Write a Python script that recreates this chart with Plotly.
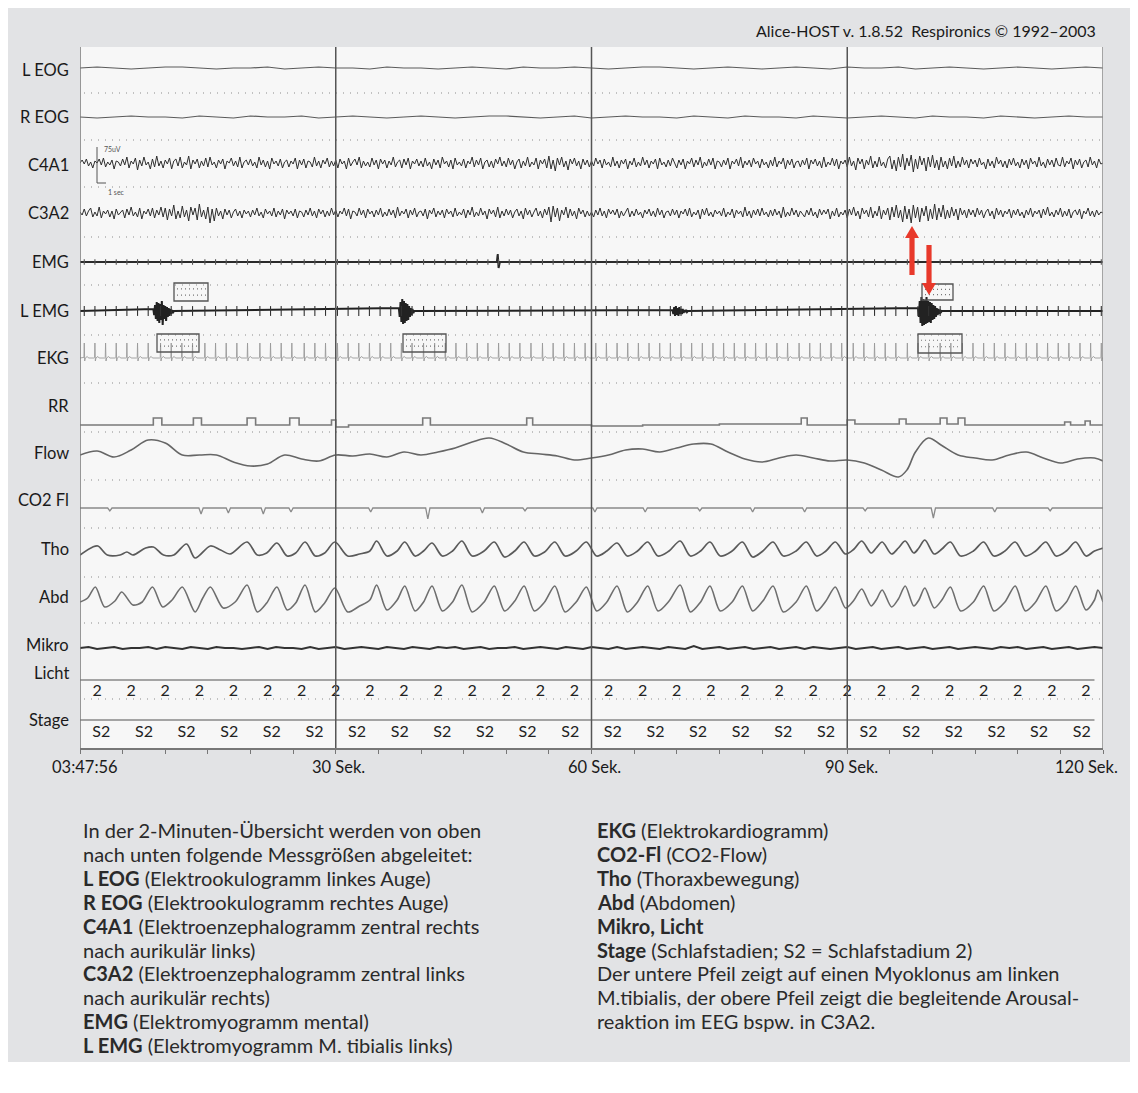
import numpy as np
import plotly.graph_objects as go

# ---------------------------------------------------------------- data
channel_names = ["L EOG", "R EOG", "C4A1", "C3A2", "EMG", "L EMG", "EKG", "RR",
                 "Flow", "CO2 Fl", "Tho", "Abd", "Mikro", "Licht", "Stage"]
time_tick_values = [0, 30, 60, 90, 120]
time_tick_labels = ["03:47:56", "30 Sek.", "60 Sek.", "90 Sek.", "120 Sek."]

# EOG (every 2 s)
l_eog = [0, 1, 0, -1, 0, 1, 1, 0, -1, 0, 0, 1, -1, 0, 1, 0, 0, -1, 1, 0,
         0, -1, 0, 1, 0, -1, 1, 0, 0, 1, 0, -1, 0, 1, 1, 0, -1, 0, 1, 0,
         -1, 0, 1, 0, -1, 1, 0, 0, 1, -1, 0, 1, 0, -1, 0, 1, 0, -1, 0, 1, 0]
r_eog = [0, -1, 0, 1, 0, 0, -1, 1, 0, -1, 1, 0, 0, 1, -1, 0, 1, 0, -1, 0,
         1, 0, -1, 0, 1, 1, 0, -1, 0, 1, -1, 0, 1, 0, 0, -1, 1, 0, -1, 1,
         0, 0, -1, 1, 0, -1, 0, 1, 0, -1, 1, 0, 0, -1, 1, 0, -1, 0, 1, 0, 0]

# EEG (every 0.25 s)
c4a1 = [
    0, 3, -1, 4, -3, 1, -5, 2, 0, 4, -2, 5, -4, 1, -2, 3, -6, 2, 1, -3,
    4, -2, 6, -5, 2, -1, 5, -7, 3, -3, 6, -2, 1, -6, 4, -4, 7, -3, 2, -5,
    3, -1, 5, -6, 2, 4, -3, 6, -5, 1, -2, 7, -6, 3, -1, 4, -5, 2, -3, 5,
    -4, 6, -2, 1, -5, 3, -1, 4, -6, 2, 0, 5, -3, 2, -4, 6, -5, 1, 3, -2,
    4, -3, 1, -5, 6, -2, 3, -4, 2, -6, 5, -1, 2, -3, 4, -5, 1, 3, -4, 2,
    -1, 5, -6, 3, -2, 4, -5, 2, 1, -4, 6, -3, 2, -5, 3, -1, 5, -4, 2, -3,
    3, -5, 4, -1, 2, -6, 5, -3, 1, 4, -2, 6, -5, 2, -3, 1, -4, 5, -2, 3,
    -6, 4, -1, 3, -5, 2, -2, 6, -4, 1, 3, -5, 4, -2, 5, -6, 2, -1, 4, -3,
    2, -4, 5, -3, 1, -6, 4, -2, 3, -5, 6, -1, 2, -4, 3, -6, 5, -2, 1, -3,
    4, -5, 2, -1, 6, -4, 3, -2, 5, -6, 1, 3, -4, 2, -5, 4, -1, 6, -3, 2,
    -4, 5, -2, 3, -6, 1, 4, -5, 2, -3, 6, -4, 1, -2, 5, -6, 3, -1, 4, -5,
    7, -6, 3, -8, 5, -2, 6, -4, 2, -7, 4, -1, 5, -3, 2, -6, 4, -2, 3, -4,
    2, -3, 5, -1, 3, -5, 4, -2, 1, -4, 6, -3, 2, -5, 3, -1, 4, -6, 2, -2,
    5, -4, 1, -3, 6, -2, 3, -5, 2, -1, 4, -6, 5, -2, 1, -4, 3, -3, 5, -1,
    -5, 3, -2, 4, -6, 2, -1, 5, -4, 3, -2, 6, -5, 1, -3, 4, -2, 5, -6, 2,
    1, -4, 3, -2, 5, -6, 2, -1, 4, -3, 6, -5, 2, -2, 3, -4, 5, -1, 2, -5,
    4, -2, 1, -5, 3, -3, 6, -4, 2, -1, 5, -6, 3, -2, 4, -5, 1, 2, -4, 3,
    -2, 5, -6, 3, -1, 4, -3, 2, -5, 6, -4, 1, -2, 5, -3, 4, -6, 2, -1, 3,
    -4, 6, -3, 2, -7, 5, -1, 4, -6, 3, -2, 7, -5, 2, -4, 6, -3, 1, -5, 4,
    7, -6, 3, -8, 6, -4, 9, -7, 5, -3, 8, -9, 4, -6, 7, -2, 5, -8, 6, -4,
    8, -5, 3, -7, 6, -4, 2, -6, 5, -3, 7, -5, 2, -4, 6, -2, 3, -5, 4, -1,
    3, -4, 5, -2, 1, -6, 4, -3, 2, -5, 6, -1, 3, -4, 2, -5, 4, -2, 5, -3,
    1, -5, 4, -2, 3, -6, 5, -1, 2, -4, 6, -3, 1, -5, 4, -2, 3, -4, 5, -2,
    -3, 6, -4, 2, -1, 5, -6, 3, -2, 4, -5, 1, 3, -4, 6, -2, 2, -5, 4, -1,
    0]
c3a2 = [
    1, -2, 4, -3, 2, 5, -4, 1, -3, 6, -5, 2, -1, 3, -4, 2, -6, 4, -2, 1,
    3, -5, 4, -2, 6, -3, 1, -4, 5, -6, 2, -1, 4, -3, 5, -5, 3, -2, 6, -4,
    5, -7, 4, -3, 8, -6, 2, -5, 7, -4, 3, -8, 6, -2, 5, -7, 9, -4, 3, -6,
    6, -10, 4, -8, 5, -3, 2, -6, 4, -2, 3, -5, 1, 4, -3, 2, -5, 3, -1, 2,
    -4, 3, -2, 5, -3, 1, -5, 4, -1, 2, -3, 5, -4, 2, -2, 4, -6, 3, -1, 2,
    -3, 4, -5, 2, 1, -4, 3, -2, 5, -3, 2, -5, 4, -1, 3, -4, 2, -3, 5, -2,
    3, -4, 2, -1, 5, -3, 4, -6, 2, 1, -3, 5, -2, 3, -5, 4, -1, 2, -4, 3,
    -2, 5, -4, 1, -3, 4, -2, 3, -5, 6, -3, 2, -1, 4, -5, 3, -2, 5, -4, 1,
    2, -3, 4, -6, 3, -1, 5, -4, 2, -2, 3, -5, 4, -1, 2, -4, 5, -3, 1, -2,
    4, -5, 3, -2, 6, -4, 1, -3, 5, -2, 2, -6, 4, -1, 3, -4, 6, -5, 2, -3,
    4, -2, 3, -5, 1, 4, -3, 2, -6, 5, -2, 3, -4, 1, 5, -3, 2, -5, 4, -2,
    6, -9, 7, -4, 5, -8, 3, -2, 6, -5, 4, -3, 2, -6, 5, -1, 3, -4, 2, -3,
    1, -4, 3, -2, 5, -3, 2, -5, 4, -1, 3, -2, 4, -5, 2, -3, 1, 5, -4, 2,
    -3, 4, -2, 1, -5, 3, -1, 4, -3, 2, -4, 5, -2, 3, -5, 1, 2, -3, 4, -2,
    3, -5, 2, -1, 4, -3, 5, -4, 1, -2, 3, -6, 4, -2, 5, -3, 1, -4, 3, -1,
    2, -3, 5, -4, 1, -2, 4, -5, 3, -1, 2, -4, 6, -3, 2, -5, 3, -2, 4, -3,
    5, -2, 1, -4, 3, -3, 4, -2, 2, -5, 6, -4, 1, -3, 5, -2, 3, -4, 2, -1,
    -4, 3, -2, 5, -3, 1, -5, 4, -2, 3, -1, 4, -6, 2, -3, 5, -4, 1, -2, 3,
    -5, 4, -2, 6, -3, 2, -6, 5, -1, 3, -4, 6, -5, 2, -3, 7, -6, 3, -2, 5,
    -7, 6, -4, 8, -5, 3, -9, 7, -6, 4, -10, 8, -5, 6, -9, 5, -3, 7, -8, 4,
    -6, 9, -7, 5, -4, 8, -6, 3, -5, 6, -3, 4, -7, 5, -2, 3, -5, 4, -2, 3,
    -4, 5, -2, 3, -5, 1, 4, -3, 2, -6, 5, -2, 3, -4, 2, -1, 4, -5, 3, -2,
    4, -3, 1, -5, 3, -2, 5, -4, 2, -1, 3, -5, 4, -2, 6, -3, 1, -4, 3, -2,
    5, -4, 2, -3, 4, -5, 1, 3, -2, 4, -6, 2, -1, 5, -3, 2, -4, 3, -2, 1,
    0]

# EMG (mental): one artefact spike
emg_t = [0, 48.9, 49.0, 49.1, 49.25, 120]
emg_v = [0, 0, 8, -6, 0, 0]

# Heart beats (s) – shared by EKG and the ECG artefacts in EMG channels
beat_times = [0.5, 1.75, 3.0, 4.25, 5.5, 6.75, 8.0, 9.45, 10.7, 11.95, 13.2, 14.65,
              15.9, 17.15, 18.4, 19.65, 21.1, 22.35, 23.6, 24.85, 26.3, 27.55, 28.8,
              30.2, 31.45, 32.7, 33.95, 35.2, 36.45, 37.7, 38.95, 40.3, 41.6, 42.85,
              44.1, 45.35, 46.6, 47.85, 49.1, 50.35, 51.6, 52.9, 54.25, 55.5, 56.75,
              58.0, 59.25, 60.5, 61.75, 63.0, 64.25, 65.5, 66.75, 68.0, 69.25, 70.5,
              71.75, 73.0, 74.25, 75.5, 76.75, 78.0, 79.25, 80.5, 81.75, 83.0, 84.35,
              85.6, 86.85, 88.1, 89.35, 90.7, 91.95, 93.2, 94.45, 95.7, 97.05, 98.3,
              99.55, 100.9, 102.15, 103.5, 104.75, 106.0, 107.25, 108.5, 109.75,
              111.0, 112.25, 113.5, 114.75, 116.0, 117.3, 118.55, 119.8]

# L EMG bursts (start s, samples every 0.1 s)
lemg_burst_starts = [8.6, 37.4, 69.5, 98.3]
lemg_bursts = [
    [2, -4, 6, -8, 9, -10, 8, -12, 7, -9, 10, -14, 6, -8, 5, -10, 4, -6, 3, -5, 2, -3, 1, -2, 0],
    [3, -6, 9, -11, 12, -13, 10, -12, 8, -10, 7, -9, 5, -6, 3, -4, 2, -2, 0],
    [1, -3, 4, -5, 5, -4, 3, -5, 4, -3, 2, -3, 2, -2, 1, -1, 1, -1, 0],
    [3, -6, 10, -12, 14, -15, 12, -14, 11, -13, 14, -12, 10, -11, 9, -12, 8, -9,
     6, -8, 5, -6, 3, -4, 2, -3, 1, -1, 0],
]

# RR tachogram (step line)
rr_t = [0, 8.6, 9.6, 13.3, 14.25, 19.6, 20.6, 24.6, 25.7, 29.5, 30.0, 31.5, 40.2,
        41.1, 52.4, 53.1, 60.0, 66.0, 75.0, 84.6, 85.3, 90.0, 90.9, 96.1, 96.9,
        100.9, 101.7, 103.0, 103.8, 108.0, 115.5, 116.2, 117.9, 118.5, 120]
rr_v = [0, 7, 0, 7, 0, 7, 0, 7, 0, 5, -2, 0, 7, 0, 7, 0, -1, 0, 1, 7, 0, 5, 1,
        6, 1, 7, 1, 7, 0, 0, 3, 0, 4, 0, 0]

# Flow
flow_t = [0, 2, 4, 6, 8, 10, 12, 14, 16, 18, 20, 22, 24, 26, 28, 30, 32, 34, 36, 38,
          40, 42, 44, 46, 48, 50, 52, 54, 56, 58, 60, 62, 64, 66, 68, 70, 72, 74, 76,
          78, 80, 82, 84, 86, 88, 90, 92, 94, 96, 97, 98, 99.5, 101, 103, 105, 107,
          109, 111, 113, 115, 117, 119, 120]
flow_v = [0, 4, -2, 5, 15, 12, 0, 0, 0, -7, -11, -9, 0, -4, -6, 0, -1, 1, -2, 3,
          0, 3, 7, 13, 17, 11, 3, 1, -1, -5, -3, 0, 5, 6, 3, 7, 11, 11, 3,
          -4, -7, -3, 0, -3, -6, -5, -8, -15, -22, -15, 3, 17, 10, 0, -3, -5,
          0, 3, -3, -8, -4, -3, -6]

# CO2 flow dips
co2_dip_t = [3.5, 14.2, 17.4, 21.5, 24.75, 34.1, 40.8, 47.2, 52.2, 60.4, 66.3,
             72.7, 78.9, 85.0, 92.1, 100.1, 107.3, 113.8]
co2_dip_v = [3, 6, 5, 6, 4, 4, 11, 5, 3, 4, 4, 3, 4, 4, 3, 10, 4, 3]

# Thorax
tho_t = [0, 1.5, 2.1, 3.2, 4.7, 5.5, 6.2, 7.7, 8.6, 9.8, 11.0, 12.5, 13.5, 15.3,
         16.5, 17.6, 19.6, 20.8, 21.9, 23.1, 24.3, 25.3, 26.4, 27.6, 28.7, 29.9,
         31.4, 32.8, 34.0, 34.8, 36.0, 37.2, 38.1, 39.3, 40.3, 41.3, 42.5, 43.7,
         44.8, 46.0, 47.4, 48.6, 49.8, 51.0, 52.1, 53.3, 54.5, 55.7, 56.9, 58.2,
         59.4, 60.6, 61.8, 63.0, 64.2, 65.4, 66.6, 67.8, 69.1, 70.4, 71.6, 72.8,
         73.9, 75.1, 76.5, 77.7, 78.9, 80.1, 81.3, 82.5, 84.0, 85.2, 86.4, 87.5,
         88.6, 89.8, 90.8, 91.7, 92.8, 93.4, 94.1, 95.2, 96.0, 96.8, 97.8, 98.4,
         99.1, 100.2, 101.1, 102.1, 103.3, 104.8, 106.0, 107.2, 108.5, 109.7,
         110.9, 112.1, 113.3, 114.5, 115.7, 116.8, 118.0, 119.0, 120]
tho_v = [-7, 1, 2, -7, -7, -4, -7, 0, 1, -7, -7, 4, -10, 2, -2, -6, 6, -7, -5, 5,
         -8, -5, 6, -8, -5, 6, -8, -6, -3, 7, -8, -3, 6, -8, -3, 5, -8, -3, 7,
         -8, -3, 6, -9, -3, 6, -8, -4, 6, -8, -3, 6, -8, -3, 5, -8, -3, 6, -8,
         -3, 7, -8, -3, 6, -8, -3, 6, -9, -3, 6, -8, -3, 6, -8, -3, 6, -6, -1,
         7, -5, 0, 6, -6, 0, 7, -5, 0, 8, -6, -1, 6, -8, -3, 6, -8, -3, 6, -8,
         -3, 6, -8, -3, 6, -8, -3, 0]

# Abdomen
abd_t = [0, 0.9, 1.8, 2.9, 4.1, 4.9, 6.2, 7.3, 8.5, 9.7, 10.8, 12.0, 13.5, 14.4,
         15.3, 16.8, 18.2, 19.6, 20.8, 21.9, 23.1, 24.3, 25.3, 26.4, 27.6, 28.7,
         29.9, 31.4, 32.8, 34.0, 34.8, 36.0, 37.2, 38.1, 39.3, 40.3, 41.3, 42.5,
         43.7, 44.8, 46.0, 47.4, 48.6, 49.8, 51.0, 52.1, 53.3, 54.5, 55.7, 56.9,
         58.2, 59.4, 60.6, 61.8, 63.0, 64.2, 65.4, 66.6, 67.8, 69.1, 70.4, 71.6,
         72.8, 73.9, 75.1, 76.5, 77.7, 78.9, 80.1, 81.3, 82.5, 84.0, 85.2, 86.4,
         87.5, 88.6, 89.8, 90.8, 91.7, 92.8, 93.4, 94.1, 95.2, 96.0, 96.8, 97.8,
         98.4, 99.1, 100.2, 101.1, 102.1, 103.3, 104.8, 106.0, 107.2, 108.5,
         109.7, 110.9, 112.1, 113.3, 114.5, 115.7, 116.8, 118.0, 119.0, 119.4, 120]
abd_v = [-4, 0, 11, -9, -3, 6, -7, -4, 11, -9, -2, 11, -14, 0, 11, -10, -4, 13,
         -14, -5, 11, -12, -5, 13, -14, -5, 10, -14, -8, -2, 13, -12, -2, 12, -13,
         -4, 12, -13, -4, 13, -14, -4, 12, -13, -3, 12, -13, -4, 12, -14, -4, 11,
         -13, -4, 12, -14, -4, 12, -13, -3, 13, -14, -4, 12, -13, -4, 12, -13, -3,
         12, -14, -4, 12, -13, -3, 11, -10, -2, 9, -8, -2, 8, -9, -1, 12, -8, -2,
         10, -10, -2, 11, -13, -4, 12, -13, -4, 12, -13, -4, 12, -13, -4, 12, -12,
         -2, 8, -4]

# Mikro (every 1 s)
mikro = [0, 1, -1, 0, 1, -1, 0, 0, 1, -1, 1, 0, -1, 1, 0, -1, 1, 0, 0, -1,
         0, 1, -1, 1, 0, 0, -1, 1, -1, 0, 1, -1, 0, 1, 0, -1, 1, 0, -1, 1,
         0, -1, 1, 0, 1, -1, 0, 1, -1, 0, 0, 1, -1, 0, 1, 0, -1, 1, 0, -1,
         1, 0, -1, 1, -1, 0, 1, 0, -1, 1, 0, -1, 2, -1, 0, 1, -1, 0, 1, -1,
         0, 1, -1, 0, 1, -1, 1, 0, -1, 0, 1, -1, 0, 1, -1, 0, 1, -1, 0, 1,
         -1, 0, 1, -1, 0, 1, 0, -1, 1, 0, 1, -1, 0, 1, -1, 0, 1, -1, 0, 1, 0]

licht_t = [0, 119]
licht_v = [0, 0]
stage_line_t = [0, 119]
stage_line_v = [0, 0]

licht_label_t = [2, 6, 10, 14, 18, 22, 26, 30, 34, 38, 42, 46, 50, 54, 58, 62,
                 66, 70, 74, 78, 82, 86, 90, 94, 98, 102, 106, 110, 114, 118]
licht_label = "2"
stage_label_t = [2.5, 7.5, 12.5, 17.5, 22.5, 27.5, 32.5, 37.5, 42.5, 47.5, 52.5, 57.5,
                 62.5, 67.5, 72.5, 77.5, 82.5, 87.5, 92.5, 97.5, 102.5, 107.5, 112.5, 117.5]
stage_label = "S2"

caption_left = [
    "In der 2-Minuten-Übersicht werden von oben",
    "nach unten folgende Messgrößen abgeleitet:",
    "<b>L EOG</b> (Elektrookulogramm linkes Auge)",
    "<b>R EOG</b> (Elektrookulogramm rechtes Auge)",
    "<b>C4A1</b> (Elektroenzephalogramm zentral rechts",
    "nach aurikulär links)",
    "<b>C3A2</b> (Elektroenzephalogramm zentral links",
    "nach aurikulär rechts)",
    "<b>EMG</b> (Elektromyogramm mental)",
    "<b>L EMG</b> (Elektromyogramm M. tibialis links)",
]
caption_right = [
    "<b>EKG</b> (Elektrokardiogramm)",
    "<b>CO2-Fl</b> (CO2-Flow)",
    "<b>Tho</b> (Thoraxbewegung)",
    "<b>Abd</b> (Abdomen)",
    "<b>Mikro, Licht</b>",
    "<b>Stage</b> (Schlafstadien; S2 = Schlafstadium 2)",
    "Der untere Pfeil zeigt auf einen Myoklonus am linken",
    "M.tibialis, der obere Pfeil zeigt die begleitende Arousal-",
    "reaktion im EEG bspw. in C3A2.",
]
title_text = "Alice-HOST v. 1.8.52  Respironics © 1992–2003"

# ---------------------------------------------------------------- layout geometry
# all pixel values below are screen coordinates (page body margin = 8 px)
OFF = 8
W, H = 1122, 1054
L, R, T, B = 80, 1103, 47, 748
PW, PH = R - L, B - T
FONT = "Lato, 'Open Sans', sans-serif"
BG = "#e2e3e5"
PLOT_BG = "#f7f7f7"


def pxx(x):
    return (x - L) / PW


def pxy(y):
    return (B - y) / PH


def sec(x):
    return (x - L) / PW * 120


base_px = {"L EOG": 68, "R EOG": 117, "C4A1": 163, "C3A2": 213, "EMG": 262,
           "L EMG": 311, "EKG": 358, "RR": 425, "Flow": 455, "CO2 Fl": 508,
           "Tho": 548, "Abd": 598, "Mikro": 648, "Licht": 680, "Stage": 720}
label_px = {"L EOG": 70, "R EOG": 117, "C4A1": 165, "C3A2": 213, "EMG": 262,
            "L EMG": 311, "EKG": 358, "RR": 406, "Flow": 453, "CO2 Fl": 500,
            "Tho": 549, "Abd": 597, "Mikro": 645, "Licht": 673, "Stage": 720}
HALF = 26

fig = go.Figure()
axes = {}
yname = {}
for i, name in enumerate(channel_names):
    n = i + 2
    c = base_px[name]
    top = max(T, c - HALF)
    bot = min(B, c + HALF)
    axes[f"yaxis{n}"] = dict(domain=[pxy(bot), pxy(top)], range=[c - bot, c - top],
                             anchor="x", visible=False, fixedrange=True)
    yname[name] = f"y{n}"


def line(name, x, y, color, width, shape="linear", smoothing=1.0):
    ln = dict(color=color, width=width, shape=shape)
    if shape == "spline":
        ln["smoothing"] = smoothing
    fig.add_trace(go.Scatter(x=list(x), y=list(y), mode="lines", yaxis=yname[name],
                             line=ln, hoverinfo="skip", showlegend=False))


def grid_t(vals):
    return np.linspace(0, 120, len(vals))


line("L EOG", grid_t(l_eog), l_eog, "#5a5a5a", 1.2)
line("R EOG", grid_t(r_eog), r_eog, "#5a5a5a", 1.2)
line("C4A1", grid_t(c4a1), c4a1, "#2e2e2e", 1.0)
line("C3A2", grid_t(c3a2), c3a2, "#2e2e2e", 1.0)
line("EMG", emg_t, emg_v, "#2a2a2a", 2.0)

# L EMG: baseline + bursts
lx, ly = [0.0], [0.0]
for st, vals in zip(lemg_burst_starts, lemg_bursts):
    for k, v in enumerate(vals):
        lx.append(st + 0.1 * k)
        ly.append(v)
lx.append(120.0)
ly.append(0.0)
line("L EMG", lx, ly, "#222222", 2.0)

# ECG artefact ticks in EMG and L EMG
for name, size, col in [("EMG", 4, "#555555"), ("L EMG", 7, "#333333")]:
    fig.add_trace(go.Scatter(x=beat_times, y=[0] * len(beat_times), mode="markers",
                             yaxis=yname[name],
                             marker=dict(symbol="line-ns", size=size, color=col,
                                         line=dict(color=col, width=1.1)),
                             hoverinfo="skip", showlegend=False))

# EKG from beats
QRS_OFF = [-0.12, -0.04, 0.0, 0.05, 0.12, 0.35, 0.5]
QRS_AMP = [0, 0.6, 15, -3, 0, 1.5, 0]
ex, ey = [0.0], [0.0]
for bt in beat_times:
    for o, a in zip(QRS_OFF, QRS_AMP):
        ex.append(bt + o)
        ey.append(a)
ex.append(120.0)
ey.append(0.0)
line("EKG", ex, ey, "#9a9a9a", 0.9)

line("RR", rr_t, rr_v, "#7a7a7a", 1.6, "hv")
line("Flow", flow_t, flow_v, "#666666", 1.6, "spline")

cx, cy = [0.0], [0.0]
for t, d in zip(co2_dip_t, co2_dip_v):
    cx += [t - 0.25, t, t + 0.25]
    cy += [0, -d, 0]
cx.append(120.0)
cy.append(0.0)
line("CO2 Fl", cx, cy, "#8a8a8a", 1.3)

line("Tho", tho_t, tho_v, "#5a5a5a", 1.7, "spline", 0.9)
line("Abd", abd_t, abd_v, "#6e6e6e", 1.6, "spline", 0.8)
line("Mikro", grid_t(mikro), mikro, "#333333", 2.0)
line("Licht", licht_t, licht_v, "#888888", 1.5)
line("Stage", stage_line_t, stage_line_v, "#888888", 1.5)

# stage labels on pixel axis
fig.add_trace(go.Scatter(x=licht_label_t, y=[692] * len(licht_label_t), mode="text",
                         text=[licht_label] * len(licht_label_t), yaxis="y",
                         textfont=dict(family=FONT, size=16, color="#222"),
                         hoverinfo="skip", showlegend=False))
fig.add_trace(go.Scatter(x=stage_label_t, y=[733] * len(stage_label_t), mode="text",
                         text=[stage_label] * len(stage_label_t), yaxis="y",
                         textfont=dict(family=FONT, size=16, color="#222"),
                         hoverinfo="skip", showlegend=False))

# ---------------------------------------------------------------- shapes
shapes = []
shapes.append(dict(type="rect", xref="paper", yref="paper", x0=0, x1=1, y0=0, y1=1,
                   fillcolor=PLOT_BG, line=dict(width=0), layer="below"))
for yy in [93, 140, 187, 237, 285, 335, 383, 432, 480, 528, 577, 623, 699]:
    shapes.append(dict(type="line", xref="x", yref="y", x0=sec(84), x1=sec(1100),
                       y0=yy, y1=yy, line=dict(color="#b0b0b0", width=1.3, dash="1px,6px"),
                       layer="below"))
shapes.append(dict(type="line", xref="x", yref="y", x0=0, x1=0, y0=T, y1=B + 4,
                   line=dict(color="#777", width=1.5)))
shapes.append(dict(type="line", xref="x", yref="y", x0=120, x1=120, y0=T, y1=B,
                   line=dict(color="#888", width=1.5)))
for tv in [30, 60, 90]:
    shapes.append(dict(type="line", xref="x", yref="y", x0=tv, x1=tv, y0=T, y1=B + 4,
                       line=dict(color="#555", width=1.5)))
for (x0, x1, y0, y1) in [(174, 208, 283, 301), (157, 199, 334, 352), (403, 446, 334, 352),
                         (922, 953, 284, 300), (918, 962, 334, 353)]:
    shapes.append(dict(type="rect", xref="x", yref="y", x0=sec(x0), x1=sec(x1), y0=y0, y1=y1,
                       line=dict(color="#555", width=1.3)))
    for frac in (0.33, 0.67):
        yy = y0 + (y1 - y0) * frac
        shapes.append(dict(type="line", xref="x", yref="y", x0=sec(x0 + 3), x1=sec(x1 - 2),
                           y0=yy, y1=yy, line=dict(color="#777", width=1.2, dash="1px,3px")))
shapes.append(dict(type="line", xref="x", yref="y", x0=sec(97), x1=sec(97), y0=147, y1=183,
                   line=dict(color="#555", width=1)))
shapes.append(dict(type="line", xref="x", yref="y", x0=sec(97), x1=sec(106), y0=183, y1=183,
                   line=dict(color="#555", width=1)))


def arrow_path(xc, y_tail, y_tip):
    d = 1 if y_tip > y_tail else -1
    y_base = y_tip - d * 12
    s = 2.6
    hw = 7
    pts = [(xc - s, y_tail), (xc + s, y_tail), (xc + s, y_base), (xc + hw, y_base),
           (xc, y_tip), (xc - hw, y_base), (xc - s, y_base)]
    return "M " + " L ".join(f"{sec(px_):.4f},{py_:.2f}" for px_, py_ in pts) + " Z"


for xc, yt, yp in [(912, 275, 226), (929, 245, 295)]:
    shapes.append(dict(type="path", xref="x", yref="y", path=arrow_path(xc, yt, yp),
                       fillcolor="#e8392b", line=dict(width=0)))

# ---------------------------------------------------------------- annotations
ann = []
for name in channel_names:
    ann.append(dict(x=pxx(71), y=pxy(label_px[name]), xref="paper", yref="paper",
                    text=name, showarrow=False, xanchor="right", yanchor="middle",
                    font=dict(family=FONT, size=16.5, color="#1a1a1a")))
tick_px = [85, 338, 594, 851, 1086]
for lab, xp in zip(time_tick_labels, tick_px):
    ann.append(dict(x=pxx(xp), y=pxy(767), xref="paper", yref="paper", text=lab,
                    showarrow=False, xanchor="center", yanchor="middle",
                    font=dict(family=FONT, size=16.5, color="#1a1a1a")))
ann.append(dict(x=pxx(1098), y=pxy(31), xref="paper", yref="paper", text=title_text,
                showarrow=False, xanchor="right", yanchor="middle",
                font=dict(family=FONT, size=16, color="#1a1a1a")))
ann.append(dict(x=pxx(102), y=pxy(149), xref="paper", yref="paper", text="75uV",
                showarrow=False, xanchor="left", yanchor="middle",
                font=dict(family=FONT, size=7, color="#555")))
ann.append(dict(x=pxx(106), y=pxy(192), xref="paper", yref="paper", text="1 sec",
                showarrow=False, xanchor="left", yanchor="middle",
                font=dict(family=FONT, size=7, color="#555")))
for k, txt in enumerate(caption_left):
    ann.append(dict(x=pxx(81), y=pxy(830 + 23.9 * k), xref="paper", yref="paper", text=txt,
                    showarrow=False, xanchor="left", yanchor="middle",
                    font=dict(family=FONT, size=20, color="#2a2a2a")))
for k, txt in enumerate(caption_right):
    ann.append(dict(x=pxx(595), y=pxy(830 + 23.9 * k), xref="paper", yref="paper", text=txt,
                    showarrow=False, xanchor="left", yanchor="middle",
                    font=dict(family=FONT, size=20, color="#2a2a2a")))

fig.update_layout(
    width=W, height=H,
    margin=dict(l=L - OFF, r=OFF + W - R, t=T - OFF, b=OFF + H - B, pad=0),
    paper_bgcolor=BG, plot_bgcolor="rgba(0,0,0,0)",
    showlegend=False, hovermode=False,
    xaxis=dict(range=[0, 120], domain=[0, 1], anchor="y", showgrid=False, zeroline=False,
               showline=True, linecolor="#777", linewidth=1.5,
               ticks="outside", tickvals=list(range(0, 121, 5)), ticklen=4,
               tickcolor="#777", tickwidth=1.2, showticklabels=False, fixedrange=True),
    yaxis=dict(range=[B, T], domain=[0, 1], anchor="x", visible=False, fixedrange=True),
    shapes=shapes, annotations=ann,
    **axes,
)

fig.write_html("out.html")
